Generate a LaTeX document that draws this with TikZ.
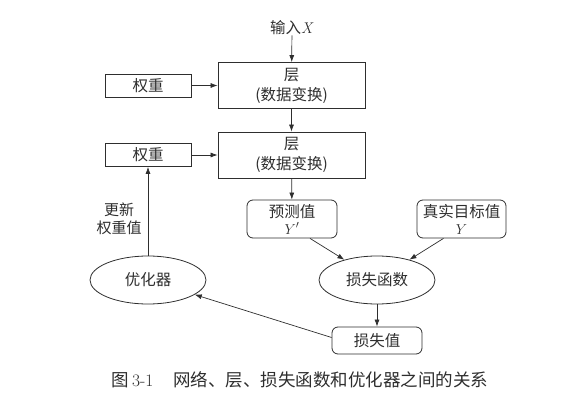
\documentclass[tikz,border=0pt]{standalone}
\usepackage{fontspec}
\newfontfamily\cjk{Noto Sans CJK SC}
\usetikzlibrary{shapes.geometric,arrows.meta,calc}
\definecolor{ink}{HTML}{2e2e2e}
\begin{document}
\begin{tikzpicture}[x=1pt,y=-1pt,
  every node/.style={font=\cjk\fontsize{15.5}{20}\selectfont, text=ink, inner sep=0pt},
  layerbox/.style={draw=ink, line width=0.8pt, minimum width=147pt, minimum height=46pt, align=center},
  wbox/.style={draw=ink, line width=0.8pt, minimum width=86pt, minimum height=23pt},
  rbox/.style={draw=ink, line width=0.8pt, rounded corners=6pt, minimum width=90pt, align=center},
  oval/.style={draw=ink, line width=0.8pt, ellipse, minimum width=116pt, minimum height=48pt},
  conn/.style={draw=ink, line width=0.7pt, -{Latex[length=7pt,width=5pt]}}
]
\useasboundingbox (0,0) rectangle (565,404);
\node (in) at (292,28) {输入\textit{\rmfamily X}};
\node[layerbox] (l1) at (291.5,85.5) {层\\(数据变换)};
\node[layerbox] (l2) at (291.5,155) {层\\(数据变换)};
\node[wbox] (w1) at (148,85.5) {权重};
\node[wbox] (w2) at (148,155) {权重};
\node[rbox, minimum height=38pt] (pred) at (292,219) {预测值\\[-3pt]{\rmfamily $Y'$}};
\node[rbox, minimum width=89pt, minimum height=38pt] (true) at (461.5,219) {真实目标值\\[-3pt]{\rmfamily $Y$}};
\node[oval] (loss) at (377,280) {损失函数};
\node[oval] (opt) at (148,280) {优化器};
\node[rbox, minimum height=27pt] (lv) at (377,340.5) {损失值};
\node[align=center, font=\cjk\fontsize{15}{18}\selectfont] (upd) at (119,219) {更新\\权重值};
\node[font=\cjk\fontsize{17.5}{20}\selectfont] (cap) at (300,380) {图\,{\rmfamily 3-1}\hspace{20pt}网络、层、损失函数和优化器之间的关系};
\draw[conn] (in) -- (l1);
\draw[conn] (l1) -- (l2);
\draw[conn] (w1) -- (l1.west |- w1);
\draw[conn] (w2) -- (l2.west |- w2);
\draw[conn] (l2) -- (pred);
\draw[conn] ($(pred.south)+(18,0)$) -- (loss);
\draw[conn] ($(true.south)+(-18,0)$) -- (loss);
\draw[conn] (loss) -- (lv);
\draw[conn] ($(lv.west)+(0,-3)$) -- (opt);
\draw[conn] (opt) -- (w2);
\end{tikzpicture}
\end{document}
